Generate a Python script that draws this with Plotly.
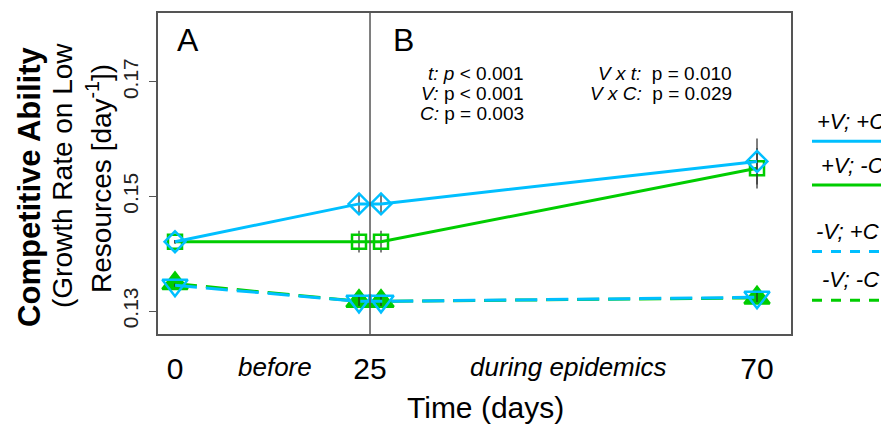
import plotly.graph_objects as go

# ---------------- data ----------------
times = [0, 25, 25, 70]
phases = ["before", "before", "during", "during"]

series_names = ["+V; +C", "+V; -C", "-V; +C", "-V; -C"]
vp_cp = [0.1421, 0.1487, 0.1487, 0.1561]
vp_cm = [0.1421, 0.1421, 0.1421, 0.1549]
vm_cp = [0.1345, 0.1317, 0.1317, 0.1324]
vm_cm = [0.1348, 0.1317, 0.1317, 0.1323]
vp_cp_se = [0.0003, 0.0019, 0.0019, 0.0040]
vp_cm_se = [0.0003, 0.0019, 0.0019, 0.0035]
vm_cp_se = [0.0003, 0.0008, 0.0008, 0.0008]
vm_cm_se = [0.0003, 0.0008, 0.0008, 0.0008]

x_tick_days = [0, 25, 70]
x_tick_labels = ["0", "25", "70"]
y_ticks = [0.13, 0.15, 0.17]
y_tick_labels = ["0.13", "0.15", "0.17"]

stats_left = ["<i>t:</i> <i>p</i> < 0.001", "<i>V:</i> p < 0.001", "<i>C:</i> p = 0.003"]
stats_right = ["<i>V x t:</i>  p = 0.010", "<i>V x C:</i>  p = 0.029"]

# ---------------- layout helpers ----------------
FONT = "Liberation Sans, Arial, sans-serif"
BLUE = "#00BFFF"
GREEN = "#00CD00"
FRAME = "#555555"
W, H = 881, 425
ML, MR, MT, MB = 158, 90, 11, 91
PW, PH = W - ML - MR, H - MT - MB

A_SCALE = 0.907      # panel A (before) is drawn slightly compressed
GAP = 1.28           # separation of the before/during points at day 25


def xpos(t, phase="during"):
    if t <= 25:
        u = t * A_SCALE
    else:
        u = 25 * A_SCALE + (t - 25)
    if t == 25 and phase is not None:
        u += -GAP if phase == "before" else GAP
    return u


def px(xp):
    return (xp - ML) / PW


def py(yp):
    return (MT + PH - yp) / PH


xs = [xpos(t, p) for t, p in zip(times, phases)]

fig = go.Figure()

ERR = dict(type="data", thickness=1.6, width=0, color="rgba(40,40,40,0.75)")


def add(name, y, se, color, dash, symbol, fill=False, size=15):
    fig.add_trace(go.Scatter(
        x=xs, y=y, name=name, mode="lines+markers",
        line=dict(color=color, width=3, dash=dash),
        marker=dict(symbol=symbol, size=size,
                    color=color if fill else "rgba(0,0,0,0)",
                    line=dict(color=color, width=2.5)),
        error_y=dict(array=se, **ERR),
        showlegend=False,
    ))


add(series_names[3], vm_cm, vm_cm_se, GREEN, "22px,9px", "triangle-up", fill=True, size=22)
add(series_names[1], vp_cm, vp_cm_se, GREEN, "solid", "square", size=14)
add(series_names[2], vm_cp, vm_cp_se, BLUE, "22px,9px", "triangle-down", size=22)
add(series_names[0], vp_cp, vp_cp_se, BLUE, "solid", "diamond", size=16)

x_lo = (ML - 175) / 8.6
x_hi = (ML + PW - 175) / 8.6

fig.update_layout(
    width=W, height=H,
    margin=dict(l=ML, r=MR, t=MT, b=MB),
    paper_bgcolor="white", plot_bgcolor="white",
    font=dict(family=FONT, color="#000"),
    xaxis=dict(range=[x_lo, x_hi], showgrid=False, zeroline=False,
               showline=True, mirror=True, linecolor=FRAME, linewidth=1.5,
               tickvals=[xpos(t, None) for t in x_tick_days],
               ticktext=x_tick_labels, ticks="outside", ticklen=7,
               tickcolor="rgba(0,0,0,0)", tickfont=dict(size=30, color="#000")),
    yaxis=dict(range=[0.1260, 0.1820], showgrid=False, zeroline=False,
               showline=True, mirror=True, linecolor=FRAME, linewidth=1.5,
               tickvals=y_ticks, ticktext=y_tick_labels, ticks="outside",
               ticklen=7, tickcolor=FRAME, tickwidth=1.2, tickangle=-90,
               ticklabelstandoff=3,
               tickfont=dict(size=21, color="#222")),
)

# divider between panels A and B (day 25)
u25 = xpos(25, None)
fig.add_shape(type="line", xref="x", yref="paper", x0=u25, x1=u25, y0=0, y1=1,
              line=dict(color=FRAME, width=1.5))

ann = []
ann.append(dict(text="A", x=px(188), y=py(38), font=dict(size=32)))
ann.append(dict(text="B", x=px(403), y=py(38), font=dict(size=32)))
for i, s in enumerate(stats_left):
    ann.append(dict(text=s, x=px(526), y=py(72 + 20 * i), xanchor="right", font=dict(size=19)))
for i, s in enumerate(stats_right):
    ann.append(dict(text=s, x=px(734), y=py(72 + 20 * i), xanchor="right", font=dict(size=19)))
ann.append(dict(text="<i>before</i>", x=px(275), y=py(367), font=dict(size=26)))
ann.append(dict(text="<i>during epidemics</i>", x=px(568), y=py(367), font=dict(size=26)))
ann.append(dict(text="Time (days)", x=px(485), y=py(408), font=dict(size=30)))
ann.append(dict(text="<b>Competitive Ability</b>", x=px(30), y=py(186), textangle=-90, font=dict(size=31)))
ann.append(dict(text="(Growth Rate on Low", x=px(63), y=py(174), textangle=-90, font=dict(size=28)))
ann.append(dict(text="Resources [day<sup>-1</sup>])", x=px(99), y=py(178), textangle=-90, font=dict(size=28)))

# manual legend (cut off by the right edge, as in the original)
leg_text_y = [120, 164, 231, 279]
leg_line_y = [140, 184, 251, 300]
leg_text_x = [815, 819, 814, 820]
leg_colors = [BLUE, GREEN, BLUE, GREEN]
leg_dash = ["solid", "solid", "10px,9px", "10px,9px"]
for name, ty, ly, tx, c, d in zip(series_names, leg_text_y, leg_line_y, leg_text_x, leg_colors, leg_dash):
    ann.append(dict(text="<i>" + name + "</i>", x=px(tx), y=py(ty), xanchor="left", font=dict(size=22)))
    fig.add_shape(type="line", xref="paper", yref="paper", x0=px(812), x1=px(900),
                  y0=py(ly), y1=py(ly), line=dict(color=c, width=3, dash=d))

for a in ann:
    a.setdefault("xref", "paper")
    a.setdefault("yref", "paper")
    a.setdefault("showarrow", False)
    a.setdefault("xanchor", "center")
    a.setdefault("yanchor", "middle")
    fig.add_annotation(**a)

fig.write_html("out.html", config={"displayModeBar": False},
               post_script="document.body.style.margin='0';document.body.style.overflow='hidden';")
